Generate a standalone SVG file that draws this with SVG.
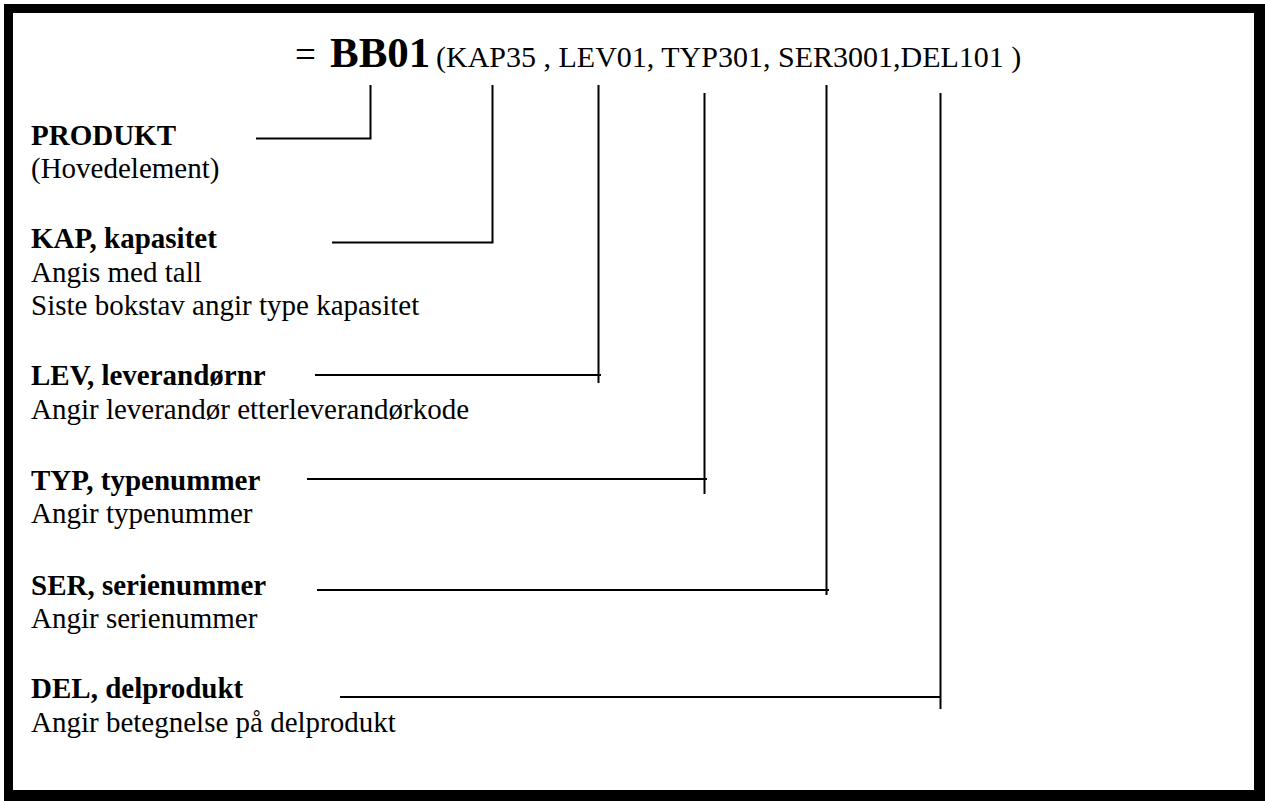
<svg xmlns="http://www.w3.org/2000/svg" width="1265" height="801" viewBox="0 0 1265 801">
<style>
.t{font-family:"Liberation Serif","Times New Roman",serif;font-size:29px;fill:#000}
.b{font-weight:bold}
.c{stroke:#000;stroke-width:2;fill:none}
</style>
<rect x="0" y="0" width="1265" height="801" fill="#fff"/>
<rect x="4" y="4" width="1261" height="797" fill="#000"/>
<rect x="13" y="13" width="1241" height="777" fill="#fff"/>
<g id="code">
<text class="t" y="67"><tspan x="295" font-size="37">=</tspan><tspan x="330" class="b" font-size="43">BB01</tspan><tspan x="436" font-size="30">(KAP35 , LEV01, TYP301, SER3001,DEL101 )</tspan></text>
</g>
<g id="produkt">
<text class="t b" x="31" y="145" font-size="31">PRODUKT</text>
<text class="t" x="31" y="178">(Hovedelement)</text>
</g>
<g id="kap">
<text class="t b" x="31" y="248">KAP, kapasitet</text>
<text class="t" x="31" y="282">Angis med tall</text>
<text class="t" x="31" y="315">Siste bokstav angir type kapasitet</text>
</g>
<g id="lev">
<text class="t b" x="31" y="385">LEV, leverandørnr</text>
<text class="t" x="31" y="419">Angir leverandør etterleverandørkode</text>
</g>
<g id="typ">
<text class="t b" x="31" y="490">TYP, typenummer</text>
<text class="t" x="31" y="523">Angir typenummer</text>
</g>
<g id="ser">
<text class="t b" x="31" y="595">SER, serienummer</text>
<text class="t" x="31" y="628">Angir serienummer</text>
</g>
<g id="del">
<text class="t b" x="31" y="698">DEL, delprodukt</text>
<text class="t" x="31" y="732">Angir betegnelse på delprodukt</text>
</g>
<g id="connectors">
<polyline class="c" points="256,138.5 370.5,138.5 370.5,85"/>
<polyline class="c" points="332,242.5 492.5,242.5 492.5,85"/>
<line class="c" x1="315" y1="375" x2="601" y2="375"/>
<line class="c" x1="598.5" y1="85" x2="598.5" y2="383"/>
<line class="c" x1="307" y1="479" x2="707" y2="479"/>
<line class="c" x1="704.5" y1="93" x2="704.5" y2="494"/>
<line class="c" x1="317" y1="590" x2="829" y2="590"/>
<line class="c" x1="826.5" y1="85" x2="826.5" y2="595"/>
<line class="c" x1="340" y1="697" x2="941" y2="697"/>
<line class="c" x1="940.5" y1="93" x2="940.5" y2="709"/>
</g>
</svg>
